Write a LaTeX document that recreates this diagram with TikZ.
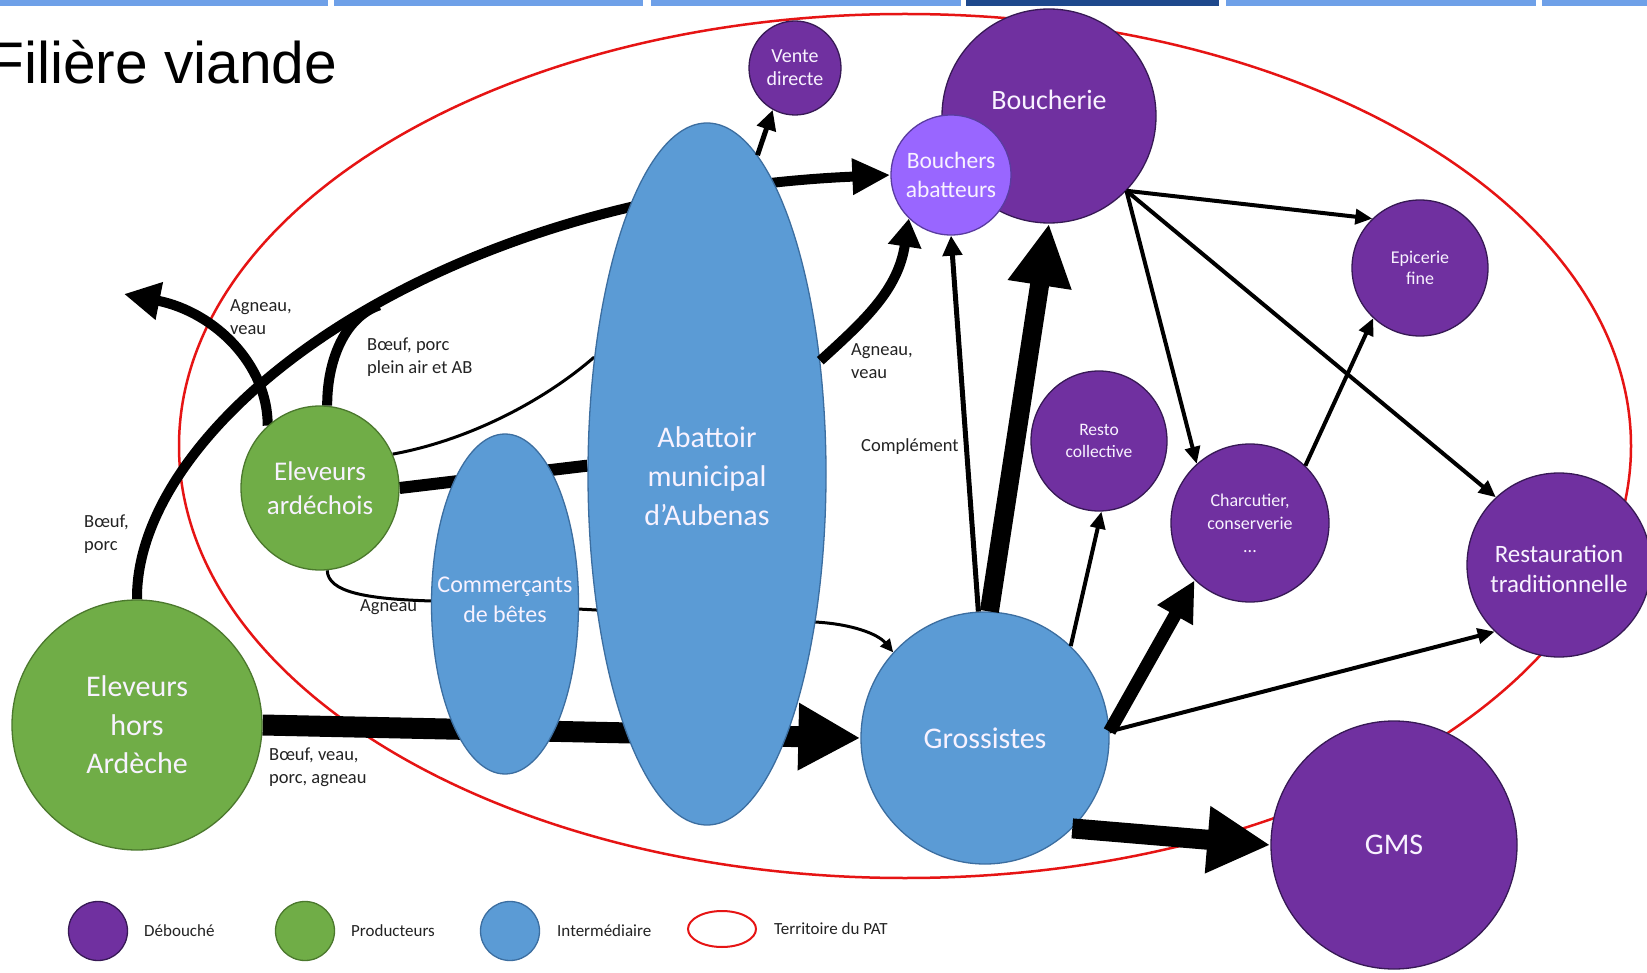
\documentclass[tikz,border=0pt]{standalone}
\usepackage{fontspec}
\setmainfont{Carlito}
\newfontfamily\arialfont{Liberation Sans}
\usetikzlibrary{shapes.geometric,arrows.meta}
\definecolor{vpurple}{RGB}{112,48,160}
\definecolor{vpurpleline}{RGB}{55,25,85}
\definecolor{vlilac}{RGB}{153,102,255}
\definecolor{vlilacline}{RGB}{90,60,160}
\definecolor{vgreen}{RGB}{112,173,71}
\definecolor{vgreenline}{RGB}{75,120,45}
\definecolor{vblue}{RGB}{91,155,213}
\definecolor{vblueline}{RGB}{60,110,160}
\definecolor{vred}{RGB}{230,20,20}
\definecolor{barlight}{RGB}{110,160,232}
\definecolor{bardark}{RGB}{30,72,140}
\definecolor{labgray}{RGB}{35,35,35}
\definecolor{nodetext}{RGB}{248,242,255}
\pgfdeclarelayer{bg}
\pgfsetlayers{bg,main}
\begin{document}
\begin{tikzpicture}[x=1pt,y=-1pt,
  blob/.style={ellipse,inner sep=0pt,line width=1.3pt},
  deb/.style={blob,fill=vpurple,draw=vpurpleline},
  lil/.style={blob,fill=vlilac,draw=vlilacline},
  prod/.style={blob,fill=vgreen,draw=vgreenline},
  inter/.style={blob,fill=vblue,draw=vblueline},
  ntext/.style={align=center,inner sep=0pt,text=nodetext},
  lab/.style={align=left,anchor=west,inner sep=0pt,text=labgray,font=\fontsize{18.5}{23}\selectfont},
  legtext/.style={anchor=west,inner sep=0pt,text=labgray,font=\fontsize{17}{20}\selectfont},
  flowsmall/.style={line width=4pt,-{Triangle[length=17pt,width=15pt]}},
  flowmid/.style={line width=5pt,-{Triangle[length=20pt,width=19pt]}},
  flowthin/.style={line width=3pt,-{Triangle[length=13pt,width=12pt]}},
]
\useasboundingbox (0,0) rectangle (1647,973);
\clip (0,0) rectangle (1647,973);

% ---------- nodes ----------
\node[deb,minimum width=92pt,minimum height=94pt] (vd) at (795,68) {};
\node[ntext,font=\fontsize{20}{23}\selectfont] (vd-t) at (vd.center) {Vente\\directe};
\node[deb,minimum width=214pt,minimum height=214pt] (bouch) at (1049,116) {};
\node[ntext,font=\fontsize{28}{34}\selectfont] (bouch-t) at (1049,100) {Boucherie};
\node[lil,minimum width=120pt,minimum height=120pt] (ba) at (951,175) {};
\node[ntext,font=\fontsize{23.5}{28.5}\selectfont] (ba-t) at (ba.center) {Bouchers\\abatteurs};
\node[deb,minimum width=136pt,minimum height=136pt] (epi) at (1420,268) {};
\node[ntext,font=\fontsize{18}{21}\selectfont] (epi-t) at (epi.center) {Epicerie\\fine};
\node[deb,minimum width=136pt,minimum height=140pt] (resto) at (1099,441) {};
\node[ntext,font=\fontsize{17.5}{22}\selectfont] (resto-t) at (resto.center) {Resto\\collective};
\node[deb,minimum width=158pt,minimum height=158pt] (char) at (1250,523) {};
\node[ntext,font=\fontsize{18}{23}\selectfont] (char-t) at (char.center) {Charcutier,\\conserverie\\...};
\node[deb,minimum width=184pt,minimum height=184pt] (rest) at (1559,565) {};
\node[ntext,font=\fontsize{25}{30.5}\selectfont] (rest-t) at (1559,569) {Restauration\\traditionnelle};
\node[deb,minimum width=246pt,minimum height=248pt] (gms) at (1394,845) {};
\node[ntext,font=\fontsize{30}{36}\selectfont] (gms-t) at (gms.center) {GMS};
\node[inter,minimum width=248pt,minimum height=252pt] (gro) at (985,738) {};
\node[ntext,font=\fontsize{30}{36}\selectfont] (gro-t) at (gro.center) {Grossistes};
\node[inter,minimum width=238pt,minimum height=702pt] (abat) at (707,474) {};
\node[ntext,font=\fontsize{30}{39}\selectfont] (abat-t) at (707,476) {Abattoir\\municipal\\d’Aubenas};
\node[inter,minimum width=147pt,minimum height=340pt] (com) at (505,604) {};
\node[ntext,font=\fontsize{24}{29.5}\selectfont] (com-t) at (505,600) {Commerçants\\de bêtes};
\node[prod,minimum width=158pt,minimum height=164pt] (ard) at (320,488) {};
\node[ntext,font=\fontsize{27}{34.5}\selectfont] (ard-t) at (ard.center) {Eleveurs\\ardéchois};
\node[prod,minimum width=250pt,minimum height=250pt] (hors) at (137,725) {};
\node[ntext,font=\fontsize{30}{38.5}\selectfont] (hors-t) at (hors.center) {Eleveurs\\hors\\Ardèche};

\coordinate (exitL) at (124,294);

% ---------- background layer ----------
\begin{pgfonlayer}{bg}
\fill[white] (0,0) rectangle (1647,973);
\fill[barlight] (0,0) rectangle (328,6);
\fill[barlight] (334,0) rectangle (643,6);
\fill[barlight] (651,0) rectangle (961,6);
\fill[bardark] (966,0) rectangle (1219,6);
\fill[barlight] (1226,0) rectangle (1536,6);
\fill[barlight] (1542,0) rectangle (1647,6);
\draw[vred,line width=2.5pt] (905,446) ellipse [x radius=726,y radius=432];

\draw[line width=10pt,-{Triangle[length=38pt,width=34pt]}] (hors.north) .. controls (135,425) and (425,195) .. (ba.west) coordinate[pos=0.55] (merge);
\draw[line width=10pt] (ard.85) .. controls (327,360) and (345,317) .. (merge);
\draw[line width=10pt,-{Triangle[length=36pt,width=36pt]}] (ard.130) .. controls (268,365) and (215,312) .. (exitL);
\draw[line width=3pt] (ard.25) .. controls (470,440) and (545,400) .. (abat.134);
\draw[line width=12pt] (ard.east) -- (abat.176);
\draw[flowthin] (ard.-85) .. controls (328,592) and (365,599) .. (432,601) -- (815,622) .. controls (852,624) and (878,634) .. (gro.137);
\draw[line width=21pt,-{Triangle[length=62pt,width=63pt]}] (hors.east) -- (gro.west);
\end{pgfonlayer}

% ---------- front connectors ----------
\draw[flowmid] (abat.81) -- (vd.-118);
\draw[line width=10pt,-{Triangle[length=28pt,width=32pt]}] (abat.45) .. controls (865,320) and (898,290) .. (ba.-134);
\draw[flowmid] (gro.93) -- (ba.south);
\draw[line width=19pt,-{Triangle[length=62pt,width=60pt]}] (gro.88) -- (bouch.south);
\draw[flowsmall] (bouch.-44) -- (epi.134);
\draw[flowsmall] (bouch.-44) -- (char.132);
\draw[flowsmall] (bouch.-44) -- (rest.133);
\draw[flowsmall] (char.46) -- (epi.-133);
\draw[flowsmall] (gro.47) -- (resto.-88);
\draw[line width=13pt,-{Triangle[length=40pt,width=38pt]}] (gro.3) -- (char.-134);
\draw[flowsmall] (gro.3) -- (rest.-134);
\draw[line width=20pt,-{Triangle[length=63pt,width=63pt]}] (gro.-46) -- (gms.west);

% ---------- labels ----------
\node[lab] (l1) at (230,317.5) {Agneau,\\veau};
\node[lab] (l2) at (367,357.5) {Bœuf, porc\\plein air et AB};
\node[lab] (l3) at (851,361) {Agneau,\\veau};
\node[lab] (l4) at (861,447) {Complément};
\node[lab] (l5) at (84,534) {Bœuf,\\porc};
\node[lab] (l6) at (360,607) {Agneau};
\node[lab] (l7) at (269,767) {Bœuf, veau,\\porc, agneau};

% ---------- title ----------
\node[anchor=base west,inner sep=0pt,font=\arialfont\fontsize{58.7}{62}\selectfont] (title) at (-12,84) {Filière viande};

% ---------- legend ----------
\node[deb,minimum width=59pt,minimum height=59pt] (lg1) at (98,931) {};
\node[legtext] (lg1t) at (144,931) {Débouché};
\node[prod,minimum width=59pt,minimum height=59pt] (lg2) at (305,931) {};
\node[legtext] (lg2t) at (351,931) {Producteurs};
\node[inter,minimum width=59pt,minimum height=59pt] (lg3) at (510,931) {};
\node[legtext] (lg3t) at (557,931) {Intermédiaire};
\node[blob,draw=vred,line width=2pt,minimum width=68pt,minimum height=36pt] (lg4) at (722,929) {};
\node[legtext] (lg4t) at (774,929) {Territoire du PAT};
\end{tikzpicture}
\end{document}
